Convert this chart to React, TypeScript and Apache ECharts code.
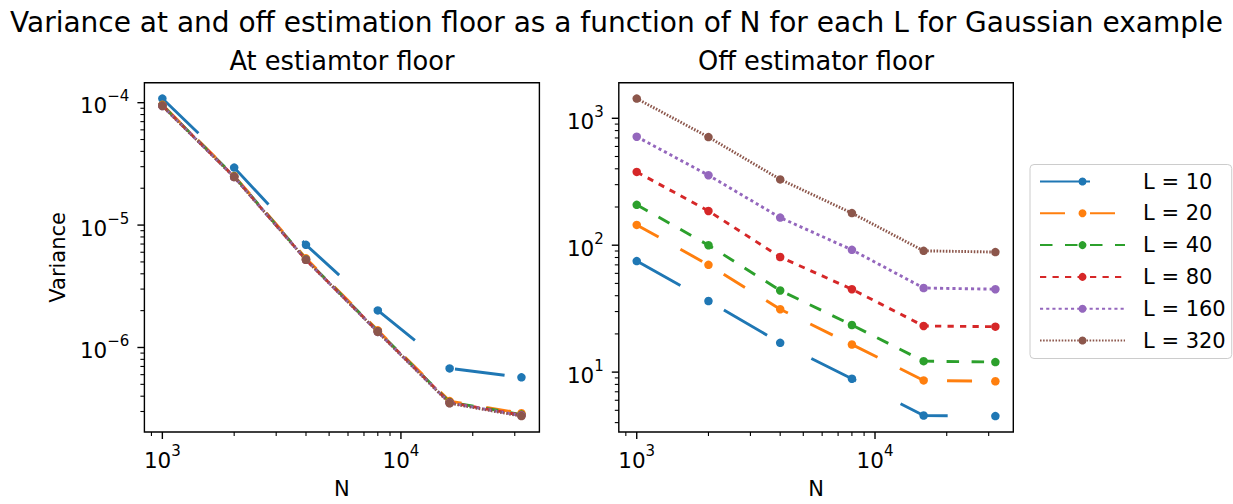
import React, { useEffect, useRef } from "react";
import * as echarts from "echarts";

// Sample sizes N on the x axis
const N_VALUES = [1000, 2000, 4000, 8000, 16000, 32000];

const L_LABELS = ["L = 10", "L = 20", "L = 40", "L = 80", "L = 160", "L = 320"];

// Variance at the estimator floor, one array per L
const AT_FLOOR_L10 = [1.08e-4, 2.95e-5, 6.9e-6, 2.01e-6, 6.75e-7, 5.7e-7];
const AT_FLOOR_L20 = [9.6e-5, 2.52e-5, 5.35e-6, 1.38e-6, 3.65e-7, 2.9e-7];
const AT_FLOOR_L40 = [9.5e-5, 2.5e-5, 5.25e-6, 1.36e-6, 3.58e-7, 2.83e-7];
const AT_FLOOR_L80 = [9.45e-5, 2.48e-5, 5.2e-6, 1.35e-6, 3.55e-7, 2.8e-7];
const AT_FLOOR_L160 = [9.4e-5, 2.47e-5, 5.2e-6, 1.34e-6, 3.52e-7, 2.78e-7];
const AT_FLOOR_L320 = [9.4e-5, 2.47e-5, 5.2e-6, 1.34e-6, 3.5e-7, 2.75e-7];

// Variance off the estimator floor, one array per L
const OFF_FLOOR_L10 = [75, 36.3, 17.0, 8.87, 4.55, 4.5];
const OFF_FLOOR_L20 = [144.5, 70, 31.3, 16.5, 8.6, 8.47];
const OFF_FLOOR_L40 = [208, 100, 44, 23.5, 12.2, 12.0];
const OFF_FLOOR_L80 = [378, 186, 80.7, 45, 23.1, 22.8];
const OFF_FLOOR_L160 = [716, 356, 165, 91.9, 46, 45];
const OFF_FLOOR_L320 = [1430, 711, 330, 179, 90.3, 88.3];

const AT_FLOOR = [AT_FLOOR_L10, AT_FLOOR_L20, AT_FLOOR_L40, AT_FLOOR_L80, AT_FLOOR_L160, AT_FLOOR_L320];
const OFF_FLOOR = [OFF_FLOOR_L10, OFF_FLOOR_L20, OFF_FLOOR_L40, OFF_FLOOR_L80, OFF_FLOOR_L160, OFF_FLOOR_L320];

// Tick positions
const X_MAJOR_TICKS = [1000, 10000];
const X_MINOR_TICKS = [900, 2000, 3000, 4000, 5000, 6000, 7000, 8000, 9000, 20000, 30000];
const AT_Y_MAJOR_TICKS = [1e-6, 1e-5, 1e-4];
const AT_Y_MINOR_TICKS = [
  3e-7, 4e-7, 5e-7, 6e-7, 7e-7, 8e-7, 9e-7,
  2e-6, 3e-6, 4e-6, 5e-6, 6e-6, 7e-6, 8e-6, 9e-6,
  2e-5, 3e-5, 4e-5, 5e-5, 6e-5, 7e-5, 8e-5, 9e-5,
];
const OFF_Y_MAJOR_TICKS = [10, 100, 1000];
const OFF_Y_MINOR_TICKS = [
  4, 5, 6, 7, 8, 9,
  20, 30, 40, 50, 60, 70, 80, 90,
  200, 300, 400, 500, 600, 700, 800, 900,
];

const COLORS = ["#1f77b4", "#ff7f0e", "#2ca02c", "#d62728", "#9467bd", "#8c564b"];
const DASHES = [
  [50, 50],
  [25, 25],
  [12.5, 12.5],
  [6.25, 6.25],
  [3.1, 3.1],
  [1.55, 1.55],
];

const FONT = "DejaVu Sans";

// Log-space limits with a 5% margin on each side
function logLimits(values: number[]): [number, number] {
  const lo = Math.log10(Math.min(...values));
  const hi = Math.log10(Math.max(...values));
  const m = (hi - lo) * 0.05;
  return [Math.pow(10, lo - m), Math.pow(10, hi + m)];
}

function powerLabel(v: number): string {
  const e = Math.log10(v);
  const r = Math.round(e);
  if (Math.abs(e - r) > 1e-6) return "";
  const exp = r < 0 ? "\u2212" + Math.abs(r) : String(r);
  return "{base|10}{sup|" + exp + "}";
}

const labelRich = {
  base: { fontSize: 21.5, fontFamily: FONT, color: "#000", lineHeight: 28, verticalAlign: "bottom" },
  sup: { fontSize: 15, fontFamily: FONT, color: "#000", lineHeight: 15, verticalAlign: "top" },
};

export default function App() {
  const ref = useRef<HTMLDivElement>(null);

  useEffect(() => {
    if (!ref.current) return;
    const chart = echarts.init(ref.current, undefined, { renderer: "svg" });

    const xLim = logLimits(N_VALUES);
    const atLim = logLimits(AT_FLOOR.flat());
    const offLim = logLimits(OFF_FLOOR.flat());
    const yLims = [atLim, offLim];

    const grids = [
      { left: 144.4, top: 82.7, width: 395, height: 354.6 },
      { left: 618.8, top: 82.7, width: 394.5, height: 354.6 },
    ].map((g) => ({ ...g, show: true, borderColor: "#000", borderWidth: 1.4, backgroundColor: "transparent" }));

    const xAxes = [0, 1].map((g) => ({
      type: "log",
      logBase: 10,
      gridIndex: g,
      min: xLim[0],
      max: xLim[1],
      name: "N",
      nameLocation: "middle",
      nameGap: 46,
      nameTextStyle: { fontSize: 21, fontFamily: FONT, color: "#000" },
      axisLine: { show: false },
      axisTick: { show: false },
      splitLine: { show: false },
      minorTick: { show: false },
      axisLabel: {
        margin: 11,
        formatter: powerLabel,
        rich: labelRich,
        showMinLabel: false,
        showMaxLabel: false,
      },
    }));

    const yAxes = [0, 1].map((g) => ({
      type: "log",
      logBase: 10,
      gridIndex: g,
      min: yLims[g][0],
      max: yLims[g][1],
      name: g === 0 ? "Variance" : "",
      nameLocation: "middle",
      nameGap: 76,
      nameTextStyle: { fontSize: 21, fontFamily: FONT, color: "#000" },
      axisLine: { show: false },
      axisTick: { show: false },
      splitLine: { show: false },
      minorTick: { show: false },
      axisLabel: {
        margin: 15,
        formatter: powerLabel,
        rich: labelRich,
        showMinLabel: false,
        showMaxLabel: false,
      },
    }));

    const lineSeries: any[] = [];
    [AT_FLOOR, OFF_FLOOR].forEach((panel, g) => {
      panel.forEach((vals, i) => {
        lineSeries.push({
          type: "line",
          name: L_LABELS[i],
          xAxisIndex: g,
          yAxisIndex: g,
          data: N_VALUES.map((n, k) => [n, vals[k]]),
          symbol: "circle",
          symbolSize: 8.5,
          showSymbol: true,
          color: COLORS[i],
          lineStyle: { color: COLORS[i], width: 2.9, type: DASHES[i] },
          itemStyle: { color: COLORS[i], borderWidth: 0 },
          emphasis: { disabled: true },
          z: 2,
        });
      });
    });

    // Major and minor tick marks drawn through each panel's axes
    const tickSeries: any[] = [];
    [0, 1].forEach((g) => {
      const yMin = yLims[g][0];
      const xMin = xLim[0];
      const xTicks = [
        ...X_MAJOR_TICKS.map((v) => [v, yMin, 1]),
        ...X_MINOR_TICKS.map((v) => [v, yMin, 0]),
      ];
      const yMajor = g === 0 ? AT_Y_MAJOR_TICKS : OFF_Y_MAJOR_TICKS;
      const yMinor = g === 0 ? AT_Y_MINOR_TICKS : OFF_Y_MINOR_TICKS;
      const yTicks = [
        ...yMajor.map((v) => [xMin, v, 1]),
        ...yMinor.map((v) => [xMin, v, 0]),
      ];
      tickSeries.push({
        type: "custom",
        xAxisIndex: g,
        yAxisIndex: g,
        silent: true,
        clip: false,
        z: 5,
        data: xTicks,
        renderItem: (_p: any, api: any) => {
          const pt = api.coord([api.value(0), api.value(1)]);
          const major = api.value(2) === 1;
          const len = major ? 7 : 4;
          return {
            type: "line",
            shape: { x1: pt[0], y1: pt[1], x2: pt[0], y2: pt[1] + len },
            style: { stroke: "#000", lineWidth: major ? 1.4 : 1.1 },
          };
        },
      });
      tickSeries.push({
        type: "custom",
        xAxisIndex: g,
        yAxisIndex: g,
        silent: true,
        clip: false,
        z: 5,
        data: yTicks,
        renderItem: (_p: any, api: any) => {
          const pt = api.coord([api.value(0), api.value(1)]);
          const major = api.value(2) === 1;
          const len = major ? 7 : 4;
          return {
            type: "line",
            shape: { x1: pt[0] - len, y1: pt[1], x2: pt[0], y2: pt[1] },
            style: { stroke: "#000", lineWidth: major ? 1.4 : 1.1 },
          };
        },
      });
    });

    const titleStyle = {
      fontFamily: FONT,
      fill: "#000",
      textAlign: "center",
      textVerticalAlign: "middle",
    };

    chart.setOption({
      animation: false,
      backgroundColor: "#fff",
      textStyle: { fontFamily: FONT },
      grid: grids,
      xAxis: xAxes,
      yAxis: yAxes,
      legend: {
        data: L_LABELS,
        orient: "vertical",
        left: 1030,
        top: 164.5,
        padding: [6.5, 6, 7.5, 9],
        itemWidth: 85,
        itemHeight: 10,
        itemGap: 10.8,
        backgroundColor: "#fff",
        borderColor: "#cccccc",
        borderWidth: 1,
        borderRadius: 4,
        selectedMode: false,
        textStyle: { fontSize: 21, fontFamily: FONT, color: "#000", lineHeight: 20, padding: [0, 0, 0, 13] },
      },
      graphic: [
        {
          type: "text",
          x: 616.5,
          y: 22,
          style: {
            ...titleStyle,
            text: "Variance at and off estimation floor as a function of N for each L for Gaussian example",
            fontSize: 28,
          },
        },
        {
          type: "text",
          x: 342,
          y: 61,
          style: { ...titleStyle, text: "At estiamtor floor", fontSize: 25.7 },
        },
        {
          type: "text",
          x: 816,
          y: 61,
          style: { ...titleStyle, text: "Off estimator floor", fontSize: 25.7 },
        },
      ],
      series: [...lineSeries, ...tickSeries],
    });

    return () => chart.dispose();
  }, []);

  return (
    <div
      ref={ref}
      style={{ position: "fixed", left: 0, top: 0, width: 1233, height: 504, background: "#fff" }}
    />
  );
}
